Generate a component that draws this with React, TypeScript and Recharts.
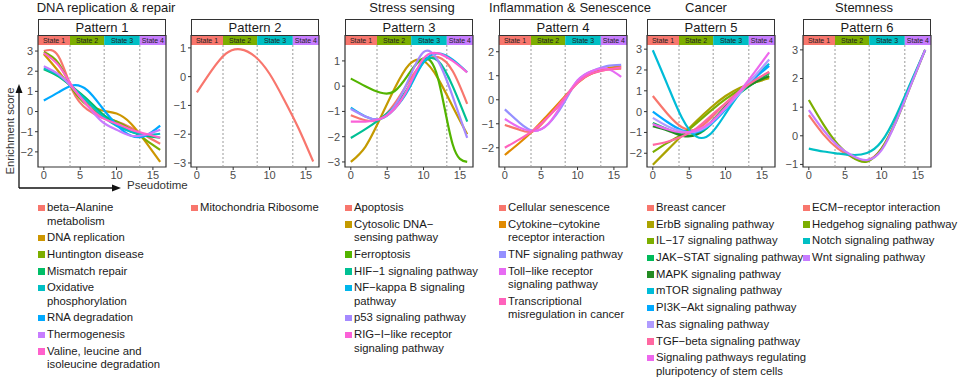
import { LineChart, Line, XAxis, YAxis, ReferenceLine, ReferenceArea } from 'recharts';

const pseudotime = [0, 2, 4, 6, 8, 10, 12, 14, 16];
const xTicks = [0, 5, 10, 15];
const stateNames = ['State 1', 'State 2', 'State 3', 'State 4'];
const stateBreaks = [-0.8, 3.6, 8.3, 13.2, 16.8];
const stateColors = ['#F8766D', '#7CAE00', '#00BFC4', '#C77CFF'];

const groupTitles = ['DNA replication & repair', 'Stress sensing', 'Inflammation & Senescence', 'Cancer', 'Stemness'];
const groupCenters = [106, 412, 570, 706, 864];

// Pattern 1
const p1Terms = [
  'beta−Alanine\nmetabolism', 'DNA replication', 'Huntington disease', 'Mismatch repair',
  'Oxidative\nphosphorylation', 'RNA degradation', 'Thermogenesis', 'Valine, leucine and\nisoleucine degradation',
];
const p1Colors = ['#F8766D', '#CD9600', '#7CAE00', '#00BE67', '#00BFC4', '#00A9FF', '#C77CFF', '#FF61CC'];
const p1Values = [
  [3.0, 2.75, 1.0, 0.1, -0.3, -0.5, -0.8, -1.2, -1.6],
  [2.85, 2.0, 1.1, 0.4, 0.05, -0.1, -0.6, -1.5, -2.5],
  [2.95, 2.4, 1.1, 0.3, -0.2, -0.5, -0.9, -1.4, -1.9],
  [2.1, 1.75, 1.2, 0.6, -0.1, -0.6, -1.0, -1.2, -1.3],
  [2.15, 1.8, 1.2, 0.5, -0.2, -0.7, -1.0, -1.15, -1.1],
  [0.55, 0.95, 1.3, 1.05, 0.2, -0.65, -1.2, -1.2, -0.7],
  [2.25, 1.85, 1.15, 0.3, -0.5, -0.9, -1.2, -1.15, -0.9],
  [2.9, 2.3, 1.2, 0.3, -0.3, -0.6, -0.9, -1.1, -1.3],
];

// Pattern 2
const p2Terms = ['Mitochondria Ribosome'];
const p2Colors = ['#F8766D'];
const p2Values = [[-0.55, 0.2, 0.8, 0.95, 0.7, 0.1, -0.8, -1.8, -2.95]];

// Pattern 3
const p3Terms = [
  'Apoptosis', 'Cytosolic DNA−\nsensing pathway', 'Ferroptosis', 'HIF−1 signaling pathway',
  'NF−kappa B signaling\npathway', 'p53 signaling pathway', 'RIG−I−like receptor\nsignaling pathway',
];
const p3Colors = ['#F8766D', '#C49A00', '#53B400', '#00C094', '#00B6EB', '#A58AFF', '#FB61D7'];
const p3Values = [
  [-1.15, -1.35, -1.3, -0.7, 0.2, 0.95, 1.15, 0.6, -0.7],
  [-3.0, -2.4, -1.3, -0.1, 0.85, 1.0, 0.3, -0.8, -1.9],
  [0.3, 0.0, -0.25, -0.2, 0.5, 1.1, 0.3, -2.3, -3.0],
  [-2.05, -1.7, -1.3, -0.8, 0.0, 0.95, 1.0, 0.0, -1.4],
  [-0.85, -1.2, -1.3, -0.9, -0.1, 0.95, 1.3, 1.05, 0.55],
  [-0.9, -1.2, -1.3, -0.8, 0.3, 1.35, 1.0, -0.4, -2.05],
  [-1.4, -1.4, -1.3, -0.9, 0.0, 1.1, 1.3, 1.0, 0.55],
];

// Pattern 4
const p4Terms = [
  'Cellular senescence', 'Cytokine−cytokine\nreceptor interaction', 'TNF signaling pathway',
  'Toll−like receptor\nsignaling pathway', 'Transcriptional\nmisregulation in cancer',
];
const p4Colors = ['#F8766D', '#E18A00', '#9590FF', '#E76BF3', '#FF62BC'];
const p4Values = [
  [-1.05, -1.25, -1.3, -0.7, -0.05, 0.75, 1.1, 1.25, 1.3],
  [-2.3, -1.8, -1.25, -0.6, 0.05, 0.7, 1.1, 1.3, 1.4],
  [-0.4, -0.95, -1.3, -1.0, -0.2, 0.8, 1.2, 1.4, 1.45],
  [-0.8, -1.15, -1.3, -1.0, -0.1, 0.8, 1.2, 1.3, 0.95],
  [-2.0, -1.65, -1.25, -0.7, 0.0, 0.7, 1.1, 1.25, 1.35],
];

// Pattern 5
const p5Terms = [
  'Breast cancer', 'ErbB signaling pathway', 'IL−17 signaling pathway', 'JAK−STAT signaling pathway',
  'MAPK signaling pathway', 'mTOR signaling pathway', 'PI3K−Akt signaling pathway', 'Ras signaling pathway',
  'TGF−beta signaling pathway', 'Signaling pathways regulating\npluripotency of stem cells',
];
const p5Colors = ['#F8766D', '#ABA300', '#7CAE00', '#00BA5A', '#238B23', '#00BCD8', '#00A9FF', '#B09CFF', '#FF68A1', '#ED68ED'];
const p5Values = [
  [0.75, -0.1, -0.75, -0.85, -0.3, 0.4, 1.0, 1.5, 1.9],
  [-2.55, -1.85, -1.15, -0.45, 0.2, 0.75, 1.15, 1.4, 1.6],
  [-1.95, -1.5, -1.1, -0.55, 0.05, 0.6, 1.05, 1.4, 1.7],
  [-0.55, -0.85, -1.1, -1.1, -0.6, 0.2, 0.9, 1.4, 1.85],
  [-0.7, -0.9, -1.15, -1.1, -0.5, 0.25, 0.95, 1.4, 1.7],
  [2.95, 1.3, -0.3, -1.2, -1.05, -0.1, 0.9, 1.7, 2.3],
  [0.0, -0.5, -0.9, -1.0, -0.6, 0.1, 0.9, 1.6, 2.2],
  [-0.3, -0.7, -0.95, -0.95, -0.55, 0.15, 0.9, 1.7, 2.5],
  [-1.6, -1.45, -1.2, -0.8, -0.2, 0.4, 1.0, 1.5, 1.9],
  [-0.6, -0.85, -1.0, -0.9, -0.5, 0.2, 1.0, 1.9, 2.85],
];

// Pattern 6
const p6Terms = ['ECM−receptor interaction', 'Hedgehog signaling pathway', 'Notch signaling pathway', 'Wnt signaling pathway'];
const p6Colors = ['#F8766D', '#7CAE00', '#00BFC4', '#C77CFF'];
const p6Values = [
  [0.72, 0.05, -0.45, -0.75, -0.85, -0.45, 0.55, 1.8, 3.0],
  [1.25, 0.4, -0.3, -0.75, -0.9, -0.45, 0.5, 1.75, 3.0],
  [-0.45, -0.55, -0.62, -0.67, -0.6, -0.2, 0.7, 1.85, 3.0],
  [0.9, 0.2, -0.35, -0.7, -0.85, -0.5, 0.5, 1.75, 3.0],
];

const panels = [
  { name: 'Pattern 1', left: 38, terms: p1Terms, colors: p1Colors, values: p1Values, domain: [-2.75, 3.3], ticks: [-2, -1, 0, 1, 2, 3] },
  { name: 'Pattern 2', left: 191, terms: p2Terms, colors: p2Colors, values: p2Values, domain: [-3.14, 1.1], ticks: [-3, -2, -1, 0, 1] },
  { name: 'Pattern 3', left: 345, terms: p3Terms, colors: p3Colors, values: p3Values, domain: [-3.2, 1.63], ticks: [-3, -2, -1, 0, 1] },
  { name: 'Pattern 4', left: 499, terms: p4Terms, colors: p4Colors, values: p4Values, domain: [-2.8, 2.28], ticks: [-2, -1, 0, 1, 2] },
  { name: 'Pattern 5', left: 647, terms: p5Terms, colors: p5Colors, values: p5Values, domain: [-2.66, 3.2], ticks: [-2, -1, 0, 1, 2, 3] },
  { name: 'Pattern 6', left: 803, terms: p6Terms, colors: p6Colors, values: p6Values, domain: [-1.09, 3.17], ticks: [-1, 0, 1, 2, 3] },
];

const FONT = '"Liberation Sans", Arial, sans-serif';
const PLOT_H = 122;
const PLOT_W = 128;
const Y_AXIS_W = 30;

const minus = (v: number) => String(v).replace('-', '\u2212');

function Panel({ p }: { p: (typeof panels)[number] }) {
  const data = pseudotime.map((t, i) => {
    const row: Record<string, number> = { t };
    p.values.forEach((s, j) => { row['s' + j] = s[i]; });
    return row;
  });
  const [lo, hi] = p.domain;
  const unit = (hi - lo) / PLOT_H;
  const barTop = hi + 9.5 * unit;

  return (
    <div style={{ position: 'absolute', left: p.left - Y_AXIS_W, top: 0 }}>
      <div
        style={{
          position: 'absolute', left: Y_AXIS_W, top: 19, width: PLOT_W, height: 17,
          border: '1px solid #333', boxSizing: 'border-box', background: '#fff',
          fontSize: 13, lineHeight: '15px', textAlign: 'center', color: '#1a1a1a',
        }}
      >
        {p.name}
      </div>
      <LineChart width={PLOT_W + Y_AXIS_W + 4} height={190} data={data} margin={{ top: 45, right: 4, bottom: 5, left: 0 }}>
        <XAxis
          dataKey="t" type="number" domain={[-0.8, 16.8]} ticks={xTicks} allowDataOverflow
          axisLine={false} tickSize={3} tickMargin={1} height={18}
          tick={{ fontSize: 11, fill: '#4D4D4D' }} tickLine={{ stroke: '#333' }}
        />
        <YAxis
          type="number" domain={p.domain} ticks={p.ticks} allowDataOverflow width={Y_AXIS_W}
          axisLine={false} tickSize={3} tickMargin={2} tickFormatter={minus}
          tick={{ fontSize: 11, fill: '#4D4D4D' }} tickLine={{ stroke: '#333' }}
        />
        {stateNames.map((s, i) => (
          <ReferenceArea
            key={s} x1={stateBreaks[i]} x2={stateBreaks[i + 1]} y1={hi} y2={barTop}
            ifOverflow="visible" fill={stateColors[i]} fillOpacity={1} stroke="none"
            label={{ value: s, position: 'center', fontSize: 7, fill: '#222' }}
          />
        ))}
        {stateBreaks.slice(1, 4).map((b) => (
          <ReferenceLine key={b} x={b} stroke="#9a9a9a" strokeDasharray="2 2" strokeWidth={1} />
        ))}
        {p.terms.map((term, j) => (
          <Line
            key={term} dataKey={'s' + j} type="natural" stroke={p.colors[j]} strokeWidth={2.2}
            dot={false} activeDot={false} isAnimationActive={false}
          />
        ))}
        <ReferenceArea
          x1={-0.8} x2={16.8} y1={lo} y2={barTop} ifOverflow="visible"
          fill="none" fillOpacity={0} stroke="#333" strokeWidth={1.2}
        />
      </LineChart>
      <div style={{ position: 'absolute', left: Y_AXIS_W, top: 201, width: 200 }}>
        {p.terms.map((term, j) => (
          <div key={term} style={{ position: 'relative', paddingLeft: 9, marginBottom: 3.2, fontSize: 11.3, lineHeight: '13.5px', color: '#1a1a1a', whiteSpace: 'pre' }}>
            <span style={{ position: 'absolute', left: 0, top: 3.5, width: 6.5, height: 6.5, background: p.colors[j] }} />
            {term}
          </div>
        ))}
      </div>
    </div>
  );
}

export default function App() {
  return (
    <div style={{ position: 'absolute', left: 0, top: 0, width: 960, height: 381, background: '#fff', fontFamily: FONT, overflow: 'hidden' }}>
      {groupTitles.map((g, i) => (
        <div key={g} style={{ position: 'absolute', left: groupCenters[i] - 100, top: 0, width: 200, textAlign: 'center', fontSize: 13, lineHeight: '16px', color: '#1a1a1a', whiteSpace: 'nowrap' }}>
          {g}
        </div>
      ))}
      {panels.map((p) => <Panel key={p.name} p={p} />)}
      <svg style={{ position: 'absolute', left: 0, top: 80 }} width={130} height={115}>
        <line x1={19} y1={108} x2={19} y2={12} stroke="#111" strokeWidth={1.3} />
        <polygon points="19,4 15.5,13 22.5,13" fill="#111" />
        <line x1={19} y1={108} x2={113} y2={108} stroke="#111" strokeWidth={1.3} />
        <polygon points="121,108 112,104.5 112,111.5" fill="#111" />
      </svg>
      <div style={{ position: 'absolute', left: 127, top: 179, fontSize: 11.5, color: '#333' }}>Pseudotime</div>
      <div style={{ position: 'absolute', left: 10, top: 131, transform: 'translate(-50%, -50%) rotate(-90deg)', fontSize: 11.2, color: '#333', whiteSpace: 'nowrap' }}>
        Enrichment score
      </div>
    </div>
  );
}
